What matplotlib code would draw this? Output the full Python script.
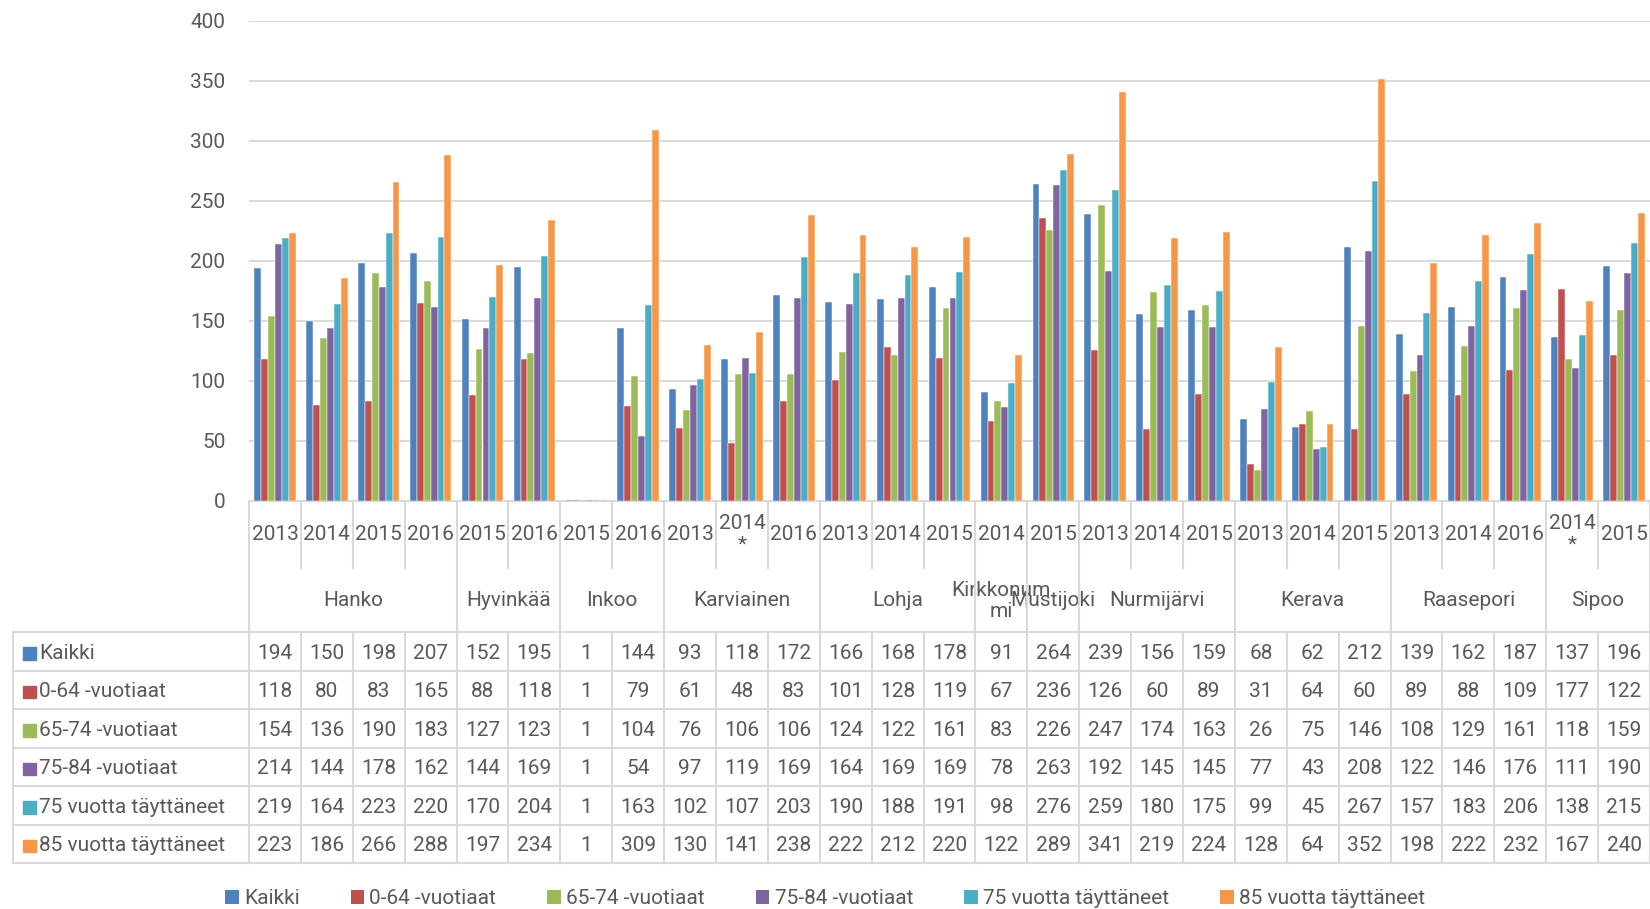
import matplotlib
matplotlib.use('Agg')
import matplotlib.pyplot as plt
from matplotlib.patches import Patch, Rectangle
from matplotlib.lines import Line2D
from matplotlib.transforms import blended_transform_factory

plt.rcParams['font.family'] = ['Roboto', 'DejaVu Sans']

years = ['2013', '2014', '2015', '2016', '2015', '2016', '2015', '2016', '2013', '2014\n*',
         '2016', '2013', '2014', '2015', '2014', '2015', '2013', '2014', '2015', '2013',
         '2014', '2015', '2013', '2014', '2016', '2014\n*', '2015']
groups = ['Hanko', 'Hyvinkää', 'Inkoo', 'Karviainen', 'Lohja', 'Kirkkonum\nmi',
          'Mustijoki', 'Nurmijärvi', 'Kerava', 'Raasepori', 'Sipoo']
group_sizes = [4, 2, 2, 3, 3, 1, 1, 3, 3, 3, 2]

series_names = ['Kaikki', '0-64 -vuotiaat', '65-74 -vuotiaat', '75-84 -vuotiaat',
                '75 vuotta täyttäneet', '85 vuotta täyttäneet']
kaikki = [194, 150, 198, 207, 152, 195, 1, 144, 93, 118, 172, 166, 168, 178, 91, 264,
          239, 156, 159, 68, 62, 212, 139, 162, 187, 137, 196]
v0_64 = [118, 80, 83, 165, 88, 118, 1, 79, 61, 48, 83, 101, 128, 119, 67, 236,
         126, 60, 89, 31, 64, 60, 89, 88, 109, 177, 122]
v65_74 = [154, 136, 190, 183, 127, 123, 1, 104, 76, 106, 106, 124, 122, 161, 83, 226,
          247, 174, 163, 26, 75, 146, 108, 129, 161, 118, 159]
v75_84 = [214, 144, 178, 162, 144, 169, 1, 54, 97, 119, 169, 164, 169, 169, 78, 263,
          192, 145, 145, 77, 43, 208, 122, 146, 176, 111, 190]
v75plus = [219, 164, 223, 220, 170, 204, 1, 163, 102, 107, 203, 190, 188, 191, 98, 276,
           259, 180, 175, 99, 45, 267, 157, 183, 206, 138, 215]
v85plus = [223, 186, 266, 288, 197, 234, 1, 309, 130, 141, 238, 222, 212, 220, 122, 289,
           341, 219, 224, 128, 64, 352, 198, 222, 232, 167, 240]
series = [kaikki, v0_64, v65_74, v75_84, v75plus, v85plus]
colors = ['#4F81BD', '#C0504D', '#9BBB59', '#8064A2', '#4BACC6', '#F79646']

W, H = 1650, 909
txt = '#595959'
line_c = '#D9D9D9'
fs = 15

fig = plt.figure(figsize=(W / 100, H / 100), dpi=100)
ax = fig.add_axes([249 / W, 1 - 501 / H, (W - 249) / W, (501 - 21) / H])

n = len(years)
bw = 1 / 7.5
for k, (vals, c) in enumerate(zip(series, colors)):
    xs = [i + (k - 2.5) * bw for i in range(n)]
    ax.bar(xs, vals, width=bw, color=c, edgecolor='white', linewidth=0.35, zorder=3)

ax.set_xlim(-0.5, n - 0.5)
ax.set_ylim(0, 400)
ax.set_yticks(range(0, 401, 50))
ax.set_xticks([])
ax.grid(axis='y', color=line_c, linewidth=1.4, zorder=0)
for s in ['top', 'right', 'left']:
    ax.spines[s].set_visible(False)
ax.spines['bottom'].set_color(line_c)
ax.spines['bottom'].set_linewidth(1.5)
ax.tick_params(axis='y', length=0, pad=17, labelsize=fs, labelcolor=txt)


def fy(px):
    return 1 - px / H


trans = blended_transform_factory(ax.transData, fig.transFigure)
lw = 1.5


def vline(x, y0, y1, tr=trans):
    fig.add_artist(Line2D([x, x], [fy(y0), fy(y1)], transform=tr, color=line_c, lw=lw))


# category axis: years
for i, y in enumerate(years):
    ax.text(i, fy(534), y, transform=trans, ha='center', va='center', fontsize=fs,
            color=txt, linespacing=1.15)

# group labels and dividers
start = 0
bounds = [0]
for g, size in zip(groups, group_sizes):
    ax.text(start + size / 2 - 0.5, fy(601), g, transform=trans, ha='center',
            va='center', fontsize=fs, color=txt, linespacing=1.15)
    start += size
    bounds.append(start)

for b in range(n + 1):
    x = b - 0.5
    if b in bounds:
        vline(x, 501, 863)
    else:
        vline(x, 501, 568)
        vline(x, 632, 863)

# data table
row_top = 632
row_h = 38.5
left = 13
for r in range(7):
    y = fy(row_top + r * row_h)
    fig.add_artist(Line2D([left / W, 1], [y, y], transform=fig.transFigure, color=line_c, lw=lw))
fig.add_artist(Line2D([left / W, left / W], [fy(row_top), fy(row_top + 6 * row_h)],
                      transform=fig.transFigure, color=line_c, lw=lw))

for r, (name, vals, c) in enumerate(zip(series_names, series, colors)):
    yc = row_top + (r + 0.5) * row_h + 2
    sq = 12.5
    fig.add_artist(Rectangle((23 / W, fy(yc + sq / 2)), sq / W, sq / H,
                             transform=fig.transFigure, color=c))
    fig.text(39 / W, fy(yc), name, ha='left', va='center', fontsize=fs, color=txt)
    for i, v in enumerate(vals):
        ax.text(i, fy(yc), str(v), transform=trans, ha='center', va='center',
                fontsize=fs, color=txt)

# legend
handles = [Patch(facecolor=c, edgecolor='none') for c in colors]
fig.legend(handles, series_names, loc='center', bbox_to_anchor=(0.5, fy(899)),
           ncol=6, frameon=False, fontsize=fs, labelcolor=txt, handlelength=0.65,
           handleheight=0.65, handletextpad=0.25, columnspacing=2.45)

fig.savefig('out.png', dpi=100)
